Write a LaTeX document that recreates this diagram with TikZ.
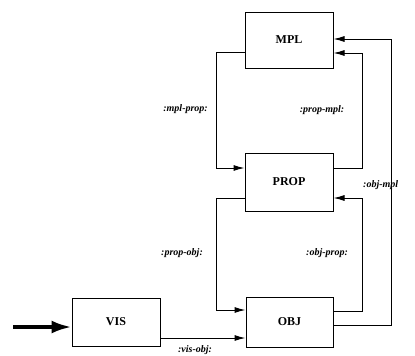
\documentclass[tikz,border=0pt]{standalone}
\usepackage{fontspec}
\setmainfont{Liberation Serif}
\usetikzlibrary{arrows.meta,positioning,calc}

\tikzset{
  module/.style={draw,line width=1pt,minimum width=88pt,minimum height=56pt,inner sep=0pt,font=\fontsize{12}{14}\selectfont\bfseries},
  chan/.style={font=\fontsize{10}{12}\selectfont\bfseries\itshape,inner sep=0pt},
  link/.style={line width=1pt,-{Latex[length=11pt,width=6pt]}},
}

\begin{document}
\begin{tikzpicture}[x=1pt,y=-1pt]
  \useasboundingbox (0,0) rectangle (415,356);

  % modules
  \node[module] (mpl) at (289,40) {MPL};
  \node[module,minimum height=58pt] (prop) at (289,182) {PROP};
  \node[module,minimum height=48pt] (vis) at (116,322) {VIS};
  \node[module,minimum width=87pt,minimum height=50pt] (obj) at (289.5,322) {OBJ};

  \coordinate (in) at (13,327);

  % channels
  \draw[link] ([yshift=-12pt]mpl.west) -- ++(-28,0) |- ([yshift=14pt]prop.west);
  \draw[link] ([yshift=14pt]prop.east) -- ++(29,0) |- ([yshift=-13pt]mpl.east);
  \draw[link] ([yshift=-3pt]obj.east) -- ++(58,0) |- ([yshift=1pt]mpl.east);
  \draw[link] ([yshift=-16pt]prop.west) -- ++(-28,0) |- ([yshift=12pt]obj.west);
  \draw[link] ([yshift=11pt]obj.east) -- ++(29,0) |- ([yshift=-16pt]prop.east);
  \draw[link] ([yshift=-16pt]vis.east) -- ([yshift=-16pt]vis.east -| obj.west);
  \draw[line width=3.5pt,-{Latex[length=20pt,width=13pt]}] (in) -- (in -| vis.west);

  % labels
  \node[chan,anchor=east] (lmp) at (208,109) {:mpl-prop:};
  \node[chan] (lpm) at (322,110) {:prop-mpl:};
  \node[chan,anchor=west] (lom) at (363,185) {:obj-mpl};
  \node[chan] (lpo) at (182,253) {:prop-obj:};
  \node[chan] (lop) at (327,253) {:obj-prop:};
  \node[chan] (lvo) at (195,350) {:vis-obj:};
\end{tikzpicture}
\end{document}
